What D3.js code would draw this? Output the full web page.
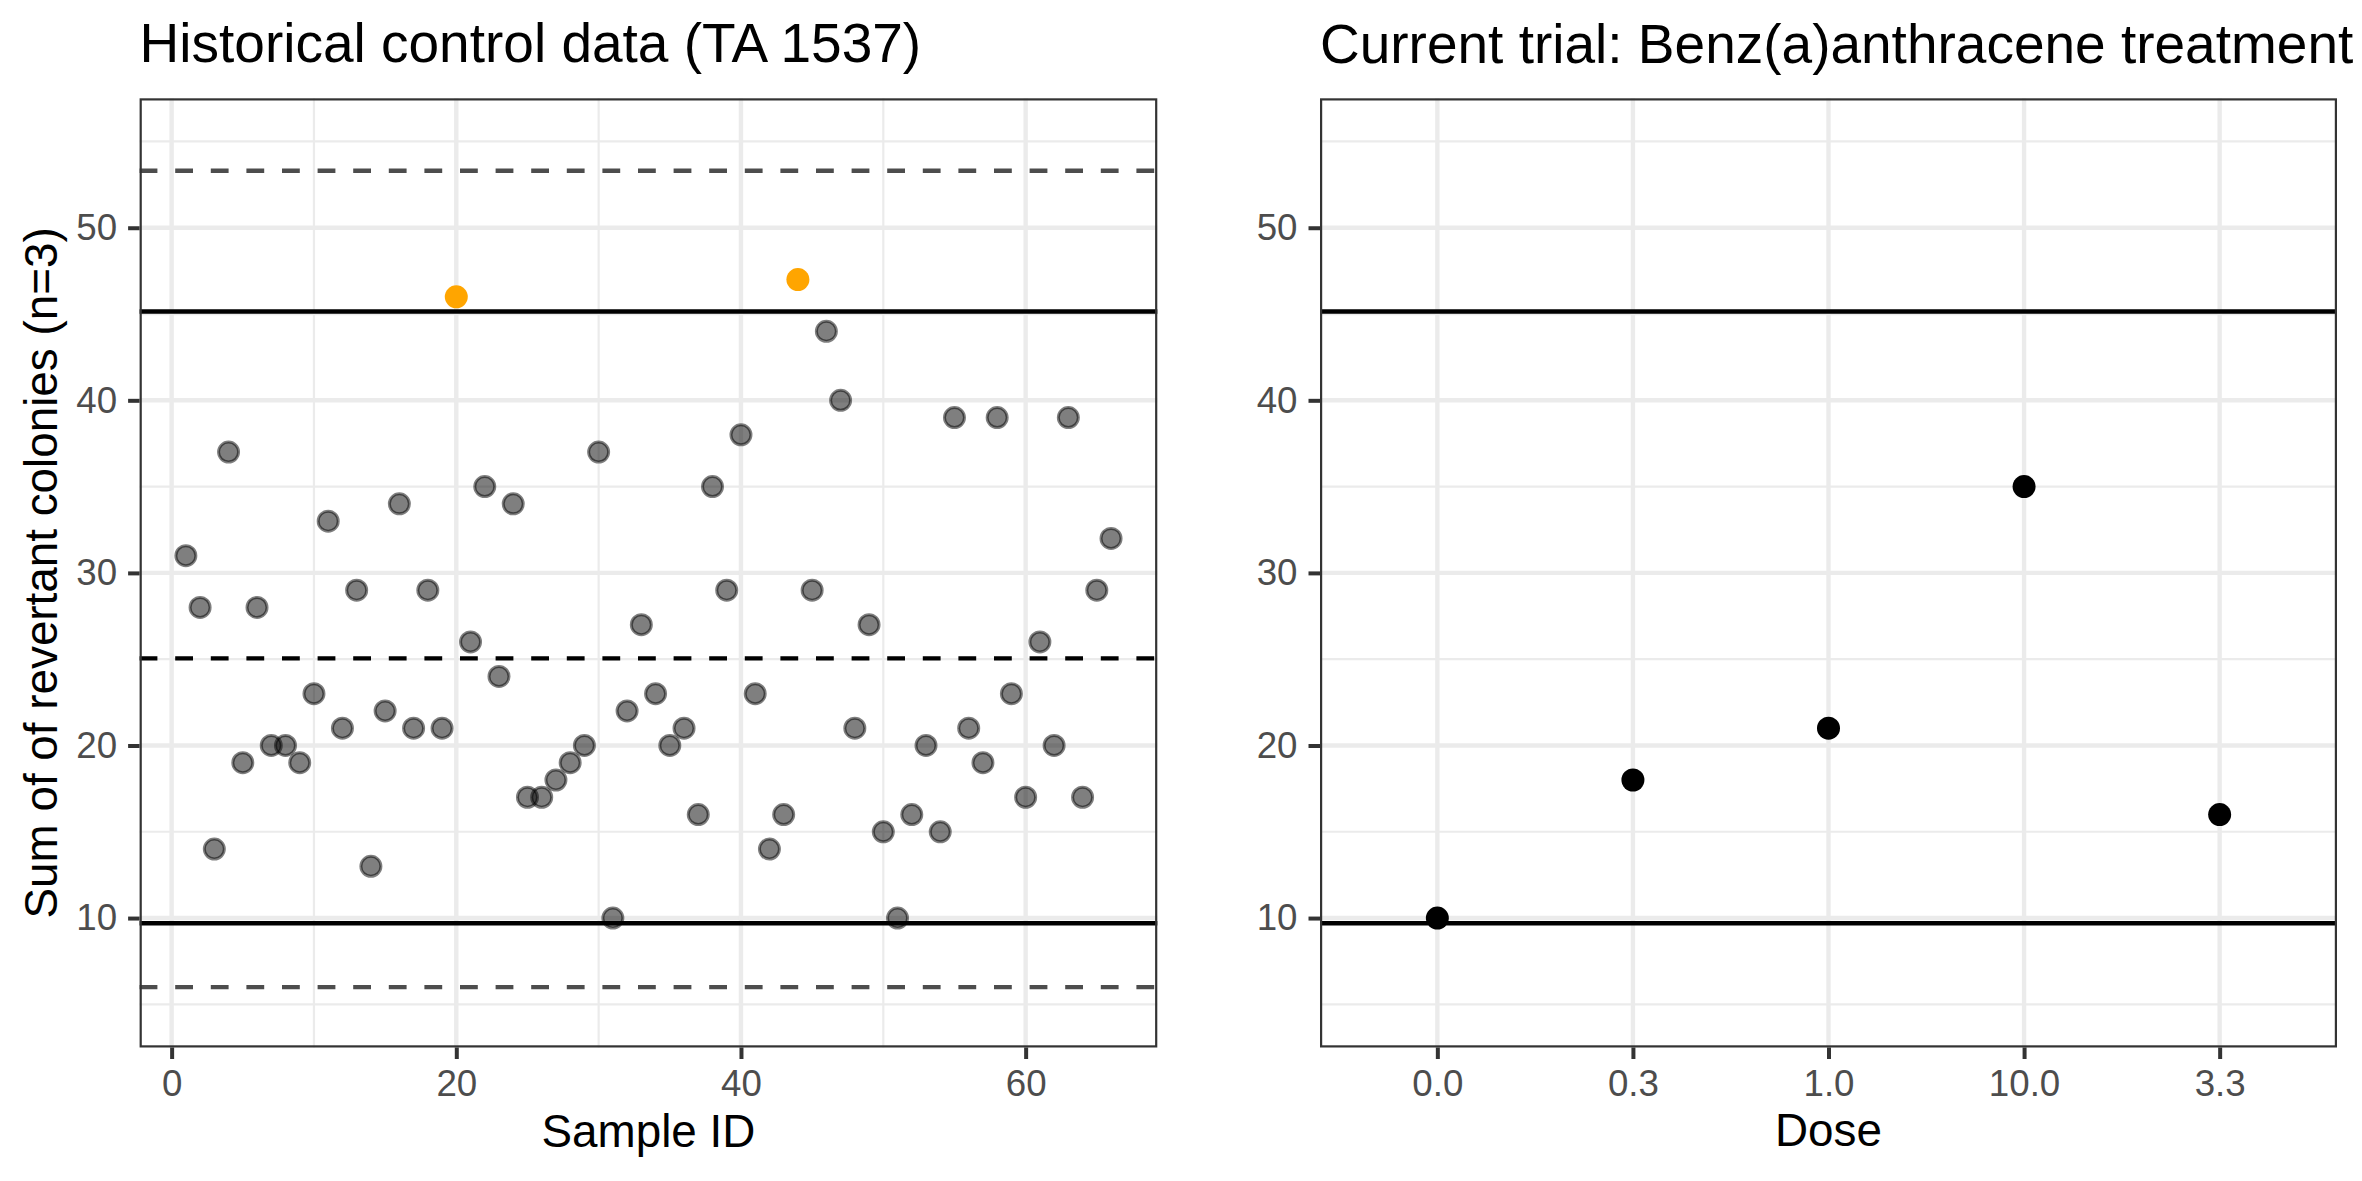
<!DOCTYPE html>
<html>
<head>
<meta charset="utf-8">
<script src="https://cdn.jsdelivr.net/npm/d3@7"></script>
<style>
  body { margin: 0; background: #fff; }
  text { font-family: "Liberation Sans", Arial, Helvetica, sans-serif; }
</style>
</head>
<body>
<div id="chart"></div>
<script>
// historical control data (TA 1537)
var sampleId = [1,2,3,4,5,6,7,8,9,10,11,12,13,14,15,16,17,18,19,20,21,22,
  23,24,25,26,27,28,29,30,31,32,33,34,35,36,37,38,39,40,41,42,43,44,
  45,46,47,48,49,50,51,52,53,54,55,56,57,58,59,60,61,62,63,64,65,66]
var revertants = [31,28,14,37,19,28,20,20,19,23,33,21,29,13,22,34,21,29,21,46,26,35,
  24,34,17,17,18,19,20,37,10,22,27,23,20,21,16,35,29,38,23,14,16,47,
  29,44,40,21,27,15,10,16,20,15,39,21,19,39,23,17,26,20,39,17,29,32]

// current trial
var doses = ['0.0', '0.3', '1.0', '10.0', '3.3']
var trialCounts = [10, 18, 21, 35, 16]

// reference lines
var controlLimits = [9.7, 45.15]
var histMean = [25.05]
var histRange = [6.0, 53.3]

var yTicks = [10, 20, 30, 40, 50]
var yMinor = [5, 15, 25, 35, 45, 55]
var xTicks = [0, 20, 40, 60]
var xMinor = [10, 30, 50]

var width = 2362
var height = 1181

var svg = d3.select('#chart').append('svg')
  .attr('width', width)
  .attr('height', height)

var pTop = 98.3, pBottom = 1047.5
var y = d3.scaleLinear().domain([2.5, 57.5]).range([pBottom, pTop])

var grid = '#ebebeb'
var major = 4.4, minor = 2.2

function panelFrame(g, x0, x1) {
  g.append('rect')
    .attr('x', x0).attr('y', pTop).attr('width', x1 - x0).attr('height', pBottom - pTop)
    .attr('fill', '#fff')
}

function hGrid(g, x0, x1) {
  g.append('g').selectAll('line').data(yMinor).join('line')
    .attr('x1', x0).attr('x2', x1).attr('y1', y).attr('y2', y)
    .attr('stroke', grid).attr('stroke-width', minor)
  g.append('g').selectAll('line').data(yTicks).join('line')
    .attr('x1', x0).attr('x2', x1).attr('y1', y).attr('y2', y)
    .attr('stroke', grid).attr('stroke-width', major)
}

function hLines(g, x0, x1, vals, color, dash) {
  g.append('g').selectAll('line').data(vals).join('line')
    .attr('x1', x0).attr('x2', x1).attr('y1', y).attr('y2', y)
    .attr('stroke', color).attr('stroke-width', 4.4)
    .attr('stroke-dasharray', dash)
}

function border(g, x0, x1) {
  g.append('rect')
    .attr('x', x0 + 1.1).attr('y', pTop + 1.1)
    .attr('width', x1 - x0 - 2.2).attr('height', pBottom - pTop - 2.2)
    .attr('fill', 'none').attr('stroke', '#333').attr('stroke-width', 2.2)
}

function styleAxis(sel) {
  sel.select('.domain').remove()
  sel.selectAll('.tick line').attr('stroke', '#333').attr('stroke-width', 4)
  sel.selectAll('.tick text')
    .attr('fill', '#4d4d4d')
    .style('font-size', '36.7px')
    .style('font-family', '"Liberation Sans", Arial, Helvetica, sans-serif')
}

// left panel
!(function(){
  var x0 = 139.6, x1 = 1157.3
  var x = d3.scaleLinear().domain([-2.25, 69.25]).range([x0, x1])
  var g = svg.append('g')

  panelFrame(g, x0, x1)
  g.append('g').selectAll('line').data(xMinor).join('line')
    .attr('x1', x).attr('x2', x).attr('y1', pTop).attr('y2', pBottom)
    .attr('stroke', grid).attr('stroke-width', minor)
  hGrid(g.append('g'), x0, x1)
  g.append('g').selectAll('line').data(xTicks).join('line')
    .attr('x1', x).attr('x2', x).attr('y1', pTop).attr('y2', pBottom)
    .attr('stroke', grid).attr('stroke-width', major)

  hLines(g, x0, x1, histRange, '#4d4d4d', '17.8 17.8')
  hLines(g, x0, x1, histMean, '#000', '17.8 17.8')
  hLines(g, x0, x1, controlLimits, '#000', null)

  var pts = sampleId.map((id, i) => ({id, v: revertants[i]}))
  g.append('g').selectAll('circle').data(pts).join('circle')
    .attr('cx', d => x(d.id)).attr('cy', d => y(d.v))
    .attr('r', d => d.v > controlLimits[1] ? 11.5 : 10)
    .attr('fill', d => d.v > controlLimits[1] ? '#ffa500' : '#000')
    .attr('fill-opacity', d => d.v > controlLimits[1] ? 1 : 0.5)
    .attr('stroke', d => d.v > controlLimits[1] ? 'none' : '#000')
    .attr('stroke-opacity', 0.5)
    .attr('stroke-width', 3)

  border(g, x0, x1)

  svg.append('g').attr('transform', `translate(${x0},0)`)
    .call(d3.axisLeft(y).tickValues(yTicks).tickSize(11.5).tickPadding(11))
    .call(styleAxis)
  svg.append('g').attr('transform', `translate(0,${pBottom})`)
    .call(d3.axisBottom(x).tickValues(xTicks).tickSize(11.5).tickPadding(11))
    .call(styleAxis)

  svg.append('text').text('Historical control data (TA 1537)')
    .attr('x', x0).attr('y', 62).style('font-size', '55px').attr('fill', '#000')
  svg.append('text').text('Sample ID')
    .attr('x', (x0 + x1) / 2).attr('y', 1147).attr('text-anchor', 'middle')
    .style('font-size', '45.8px').attr('fill', '#000')
  svg.append('text').text('Sum of of revertant colonies (n=3)')
    .attr('transform', `translate(57,${(pTop + pBottom) / 2}) rotate(-90)`)
    .attr('text-anchor', 'middle')
    .style('font-size', '45.8px').attr('fill', '#000')
})()

// right panel
!(function(){
  var x0 = 1320, x1 = 2337
  var x = d3.scalePoint().domain(doses).range([x0, x1]).padding(0.6)
  var g = svg.append('g')

  panelFrame(g, x0, x1)
  hGrid(g.append('g'), x0, x1)
  g.append('g').selectAll('line').data(doses).join('line')
    .attr('x1', x).attr('x2', x).attr('y1', pTop).attr('y2', pBottom)
    .attr('stroke', grid).attr('stroke-width', major)

  hLines(g, x0, x1, controlLimits, '#000', null)

  g.append('g').selectAll('circle').data(doses).join('circle')
    .attr('cx', d => x(d)).attr('cy', (d, i) => y(trialCounts[i]))
    .attr('r', 11.5)
    .attr('fill', '#000')

  border(g, x0, x1)

  svg.append('g').attr('transform', `translate(${x0},0)`)
    .call(d3.axisLeft(y).tickValues(yTicks).tickSize(11.5).tickPadding(11))
    .call(styleAxis)
  svg.append('g').attr('transform', `translate(0,${pBottom})`)
    .call(d3.axisBottom(x).tickSize(11.5).tickPadding(11))
    .call(styleAxis)

  svg.append('text').text('Current trial: Benz(a)anthracene treatment')
    .attr('x', x0).attr('y', 63).style('font-size', '55px').attr('fill', '#000')
  svg.append('text').text('Dose')
    .attr('x', (x0 + x1) / 2).attr('y', 1146).attr('text-anchor', 'middle')
    .style('font-size', '45.8px').attr('fill', '#000')
})()
</script>
</body>
</html>
